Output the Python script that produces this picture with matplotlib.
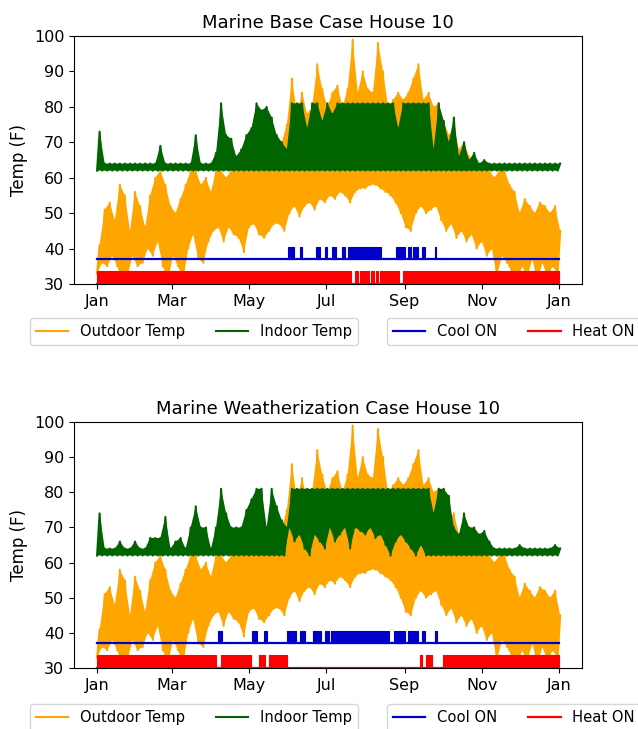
import numpy as np
import matplotlib
matplotlib.use("Agg")
import matplotlib.pyplot as plt

# ------------------------------
# Data read off the reference (sampled every 4 days, low / high of each window)
# ------------------------------

sample_days = list(range(0, 365, 4))

outdoor_low = [33, 36, 35, 38, 35, 31, 32, 38, 35, 36,
               40, 38, 42, 35, 31, 38, 35, 31, 40, 44,
               37, 36, 42, 45, 46, 42, 46, 44, 43, 39,
               46, 47, 44, 43, 45, 47, 47, 45, 50, 52,
               49, 52, 53, 51, 54, 53, 55, 54, 56, 55,
               53, 56, 57, 57, 58, 58, 57, 56, 55, 53,
               50, 46, 45, 50, 52, 50, 51, 52, 48, 45,
               47, 43, 45, 42, 44, 40, 42, 38, 40, 32,
               38, 36, 33, 31, 35, 32, 37, 31, 36, 32,
               35, 33]
outdoor_high = [41, 51, 53, 48, 58, 55, 45, 56, 52, 46,
                55, 60, 62, 58, 52, 50, 54, 58, 62, 62,
                58, 60, 56, 62, 62, 60, 62, 63, 62, 62,
                62, 64, 64, 66, 68, 67, 70, 75, 88, 78,
                84, 78, 80, 92, 85, 80, 84, 86, 80, 85,
                99, 84, 90, 85, 84, 98, 90, 80, 82, 84,
                82, 84, 88, 92, 82, 84, 80, 81, 76, 72,
                74, 68, 70, 66, 64, 63, 62, 62, 60, 62,
                62, 58, 56, 50, 54, 52, 50, 53, 52, 50,
                52, 45]

indoor_setpoint = 62

base_indoor_high = [73, 64, 64, 64, 64, 64, 64, 64, 64, 64,
                    64, 64, 69, 64, 64, 64, 64, 64, 64, 72,
                    64, 64, 64, 67, 81, 72, 71, 66, 68, 72,
                    74, 81, 79, 80, 77, 72, 70, 68, 81, 81,
                    81, 74, 81, 81, 76, 81, 78, 81, 81, 81,
                    81, 81, 81, 81, 81, 81, 81, 81, 81, 74,
                    81, 81, 81, 81, 81, 81, 68, 81, 76, 70,
                    77, 66, 70, 65, 67, 64, 65, 64, 64, 64,
                    64, 64, 64, 64, 64, 64, 64, 64, 64, 64,
                    64, 64]
base_indoor_low = [indoor_setpoint] * len(sample_days)

weath_indoor_high = [74, 64, 64, 64, 66, 64, 64, 66, 64, 64,
                     67, 67, 67, 73, 64, 66, 67, 64, 70, 76,
                     70, 70, 64, 70, 81, 74, 70, 70, 70, 75,
                     78, 81, 81, 70, 81, 76, 72, 70, 81, 81,
                     81, 81, 81, 81, 81, 81, 81, 81, 81, 81,
                     81, 81, 81, 81, 81, 81, 81, 81, 81, 81,
                     81, 81, 81, 81, 81, 81, 74, 81, 81, 79,
                     70, 68, 74, 70, 70, 68, 69, 66, 64, 64,
                     64, 64, 64, 65, 64, 64, 64, 64, 64, 64,
                     65, 64]
weath_indoor_low = [62, 62, 62, 62, 62, 62, 62, 62, 62, 62,
                    62, 62, 62, 62, 62, 62, 62, 62, 62, 62,
                    62, 62, 62, 62, 62, 62, 62, 62, 62, 62,
                    62, 62, 62, 62, 62, 62, 62, 62, 70, 66,
                    68, 64, 62, 68, 66, 64, 70, 66, 68, 70,
                    64, 70, 69, 68, 70, 67, 68, 65, 62, 66,
                    68, 66, 64, 62, 65, 62, 62, 62, 62, 62,
                    62, 62, 62, 62, 62, 62, 62, 62, 62, 62,
                    62, 62, 62, 62, 62, 62, 62, 62, 62, 62,
                    62, 62]

# on/off signals are drawn as offset levels
cool_off, cool_on = 37, 40.5
heat_off, heat_on = 30, 33.6
year_span = [0, 365]

# (start day, end day) of ON periods
base_cool = [(150.5, 156), (160, 162), (173, 176), (180.5, 182), (186, 188.5),
             (193.7, 195.6), (198, 215), (215.8, 224.6), (236, 243), (245.7, 247.8),
             (249.6, 253.6), (257, 259), (267, 268)]
base_heat = [(0, 200.8), (203.5, 206), (207.4, 211.4), (212.7, 215), (216.3, 219),
             (220.4, 222), (223.3, 239), (241.7, 365)]

weath_cool = [(95.5, 98.7), (122.7, 126.7), (132, 134.6), (150, 157.6), (160, 164),
              (171, 177), (180.5, 183), (185, 231), (235, 243), (245.7, 253.6),
              (257, 259), (267, 268.7)]
weath_heat = [(0, 94), (98, 121.7), (128, 133), (136, 150), (255, 257),
              (260, 265), (273, 278), (279, 365)]

month_ticks = [0, 59, 120, 181, 243, 304, 365]
month_labels = ["Jan", "Mar", "May", "Jul", "Sep", "Nov", "Jan"]


def band(ax, low, high, color, z, label):
    # lows sit at the start of each window, highs half way through
    d = np.asarray(sample_days, dtype=float)
    lo = np.asarray(low, dtype=float)
    hi = np.asarray(high, dtype=float)
    px = np.concatenate([d + 2, d[::-1]])
    py = np.concatenate([hi, lo[::-1]])
    ax.fill(px, py, color=color, lw=0, zorder=z)
    x = np.column_stack([d, d + 2]).ravel()
    y = np.column_stack([lo, hi]).ravel()
    line, = ax.plot(x, y, color=color, lw=1.5, zorder=z, label=label)
    return line


def draw_panel(ax, title, in_low, in_high, cool, heat):
    out_line = band(ax, outdoor_low, outdoor_high, "orange", 2, "Outdoor Temp")
    in_line = band(ax, in_low, in_high, "darkgreen", 3, "Indoor Temp")

    cool_line, = ax.plot(year_span, [cool_off, cool_off], color="mediumblue",
                         lw=1.6, zorder=4, label="Cool ON")
    ax.broken_barh([(s, e - s) for s, e in cool], (cool_off, cool_on - cool_off),
                   facecolor="mediumblue", edgecolor="mediumblue", lw=0.8,
                   zorder=4)

    heat_line, = ax.plot(year_span, [heat_off, heat_off], color="red",
                         lw=1.6, zorder=5, label="Heat ON")
    ax.broken_barh([(s, e - s) for s, e in heat], (heat_off, heat_on - heat_off),
                   facecolor="red", edgecolor="red", lw=0.8, zorder=5)

    ax.set_xlim(-18.25, 383.25)
    ax.set_ylim(30, 100)
    ax.set_xticks(month_ticks)
    ax.set_xticklabels(month_labels)
    ax.tick_params(labelsize=11.5)
    ax.set_ylabel("Temp (F)", fontsize=12)
    ax.set_title(title, fontsize=13)
    return out_line, in_line, cool_line, heat_line


fig = plt.figure(figsize=(6.38, 7.29), dpi=100)
W, H = 638, 729

ax1 = fig.add_axes([74 / W, 1 - 284 / H, 508 / W, 248 / H])
ax2 = fig.add_axes([74 / W, 1 - 668 / H, 508 / W, 246 / H])

panels = [
    (ax1, "Marine Base Case House 10", base_indoor_low, base_indoor_high,
     base_cool, base_heat, 318),
    (ax2, "Marine Weatherization Case House 10", weath_indoor_low,
     weath_indoor_high, weath_cool, weath_heat, 704),
]

leg_kw = dict(loc="upper left", ncol=2, bbox_transform=fig.transFigure,
              borderaxespad=0, fontsize=10.6, handlelength=2.2,
              columnspacing=2.1)

for ax, title, lo, hi, cool, heat, leg_y in panels:
    lines = draw_panel(ax, title, lo, hi, cool, heat)
    leg1 = ax.legend(handles=lines[:2], bbox_to_anchor=(30 / W, 1 - leg_y / H),
                     **leg_kw)
    ax.add_artist(leg1)
    ax.legend(handles=lines[2:], bbox_to_anchor=(387 / W, 1 - leg_y / H),
              **leg_kw)

fig.savefig("out.png", dpi=100)
